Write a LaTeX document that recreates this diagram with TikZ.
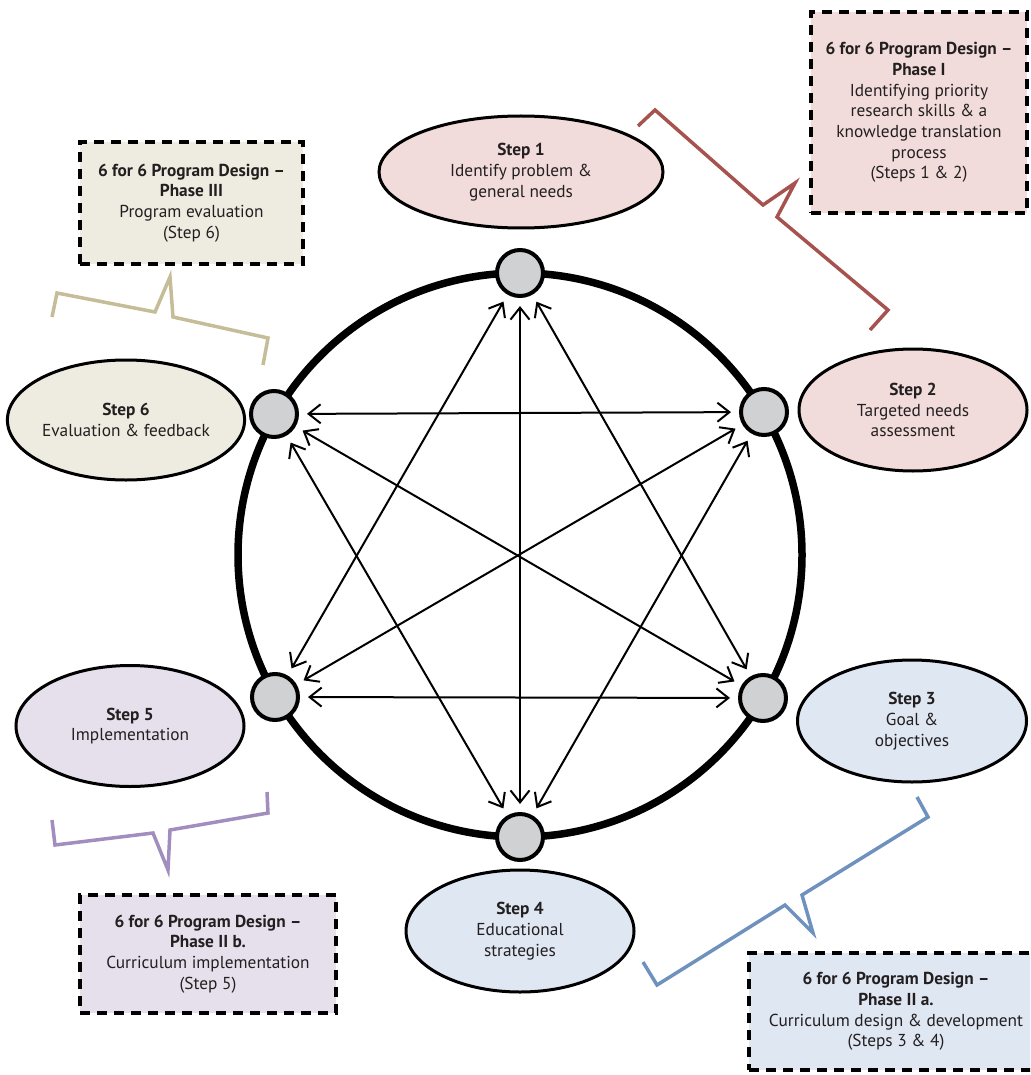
\documentclass[tikz,border=0pt]{standalone}
\usepackage{fontspec}
\setmainfont{PT Sans}
\usetikzlibrary{shapes.geometric,arrows.meta}
\definecolor{pinkf}{HTML}{F2DCDB}
\definecolor{bluef}{HTML}{DFE7F2}
\definecolor{lavf}{HTML}{E6E0EC}
\definecolor{tanf}{HTML}{EEECE1}
\definecolor{grayf}{HTML}{D0D1D3}
\definecolor{redb}{RGB}{166,83,79}
\definecolor{tanb}{RGB}{196,189,151}
\definecolor{purb}{RGB}{161,142,190}
\definecolor{blueb}{RGB}{111,145,190}
\definecolor{txt}{HTML}{231F20}
\begin{document}
\begin{tikzpicture}[x=1pt,y=-1pt,
  every node/.style={text=txt, font=\fontsize{17.3pt}{20.7pt}\selectfont},
  stepell/.style={ellipse, draw=black, line width=3pt, inner sep=0pt, align=center},
  hub/.style={circle, draw=black, line width=4pt, fill=grayf, minimum size=46pt, inner sep=0pt},
  phasebox/.style={draw=black, line width=4pt, dash pattern=on 10pt off 7pt, inner sep=0pt, align=center},
  link/.style={line width=2pt, {Straight Barb[length=12pt,width=19pt]}-{Straight Barb[length=12pt,width=19pt]}, shorten >=8pt, shorten <=8pt},
  brace/.style={line width=3.5pt, line join=miter}]
\useasboundingbox (0,0) rectangle (1030,1075);

% phase boxes
\node[phasebox, fill=pinkf, minimum width=216pt, minimum height=201pt] (p1) at (919,112.5)
  {\textbf{6 for 6 Program Design –}\\\textbf{Phase I}\\Identifying priority\\research skills \& a\\knowledge translation\\process\\(Steps 1 \& 2)};
\node[phasebox, fill=tanf, minimum width=223pt, minimum height=122pt] (p3) at (191.5,203)
  {\textbf{6 for 6 Program Design –}\\\textbf{Phase III}\\Program evaluation\\(Step 6)};
\node[phasebox, fill=lavf, minimum width=256pt, minimum height=118pt] (p2b) at (208,954)
  {\textbf{6 for 6 Program Design –}\\\textbf{Phase II b.}\\Curriculum implementation\\(Step 5)};
\begin{scope}
\clip (0,0) rectangle (1030,1075);
\node[phasebox, fill=bluef, minimum width=294pt, minimum height=117pt] (p2a) at (896,1011.5)
  {\textbf{6 for 6 Program Design –}\\\textbf{Phase II a.}\\Curriculum design \& development\\(Steps 3 \& 4)};
\end{scope}

% braces
\draw[brace, redb] (638,126) -- (655,110) -- (763,205) -- (795,183) -- (777,217) -- (888,310) -- (870,330);
\draw[brace, tanb] (52,317) -- (57,293) -- (155,312) -- (170,277) -- (173,317) -- (268,338) -- (263,365);
\draw[brace, purb] (52,820) -- (55,845) -- (153,833) -- (168,870) -- (170,830) -- (268,813) -- (267,792);
\draw[brace, blueb] (917,797) -- (928,817) -- (802,895) -- (813,933) -- (785,905) -- (657,985) -- (643,962);

% step ellipses
\node[stepell, fill=pinkf, minimum width=284pt, minimum height=112pt] (e1) at (521,172)
  {\textbf{Step 1}\\Identify problem \&\\general needs};
\node[stepell, fill=pinkf, minimum width=228pt, minimum height=122pt] (e2) at (913,410)
  {\textbf{Step 2}\\Targeted needs\\assessment};
\node[stepell, fill=bluef, minimum width=229pt, minimum height=122pt] (e3) at (912,721)
  {\textbf{Step 3}\\Goal \&\\objectives};
\node[stepell, fill=bluef, minimum width=228pt, minimum height=122pt] (e4) at (520,931)
  {\textbf{Step 4}\\Educational\\strategies};
\node[stepell, fill=lavf, minimum width=228pt, minimum height=121pt] (e5) at (130,726)
  {\textbf{Step 5}\\Implementation};
\node[stepell, fill=tanf, minimum width=236pt, minimum height=120pt] (e6) at (126,420)
  {\textbf{Step 6}\\Evaluation \& feedback};

% main circle
\node[circle, draw=black, line width=7.5pt, minimum size=564pt, inner sep=0pt] (ring) at (520,555) {};

% hubs
\node[hub] (s1) at (520,273) {};
\node[hub] (s2) at (764,412) {};
\node[hub] (s3) at (763,698) {};
\node[hub] (s4) at (520,837) {};
\node[hub] (s5) at (275,697) {};
\node[hub] (s6) at (274,414) {};

% links
\draw[link] (s1) -- (s4);
\draw[link] (s2) -- (s5);
\draw[link] (s3) -- (s6);
\draw[link] (s1) -- (s3);
\draw[link] (s1) -- (s5);
\draw[link] (s2) -- (s6);
\draw[link] (s2) -- (s4);
\draw[link] (s4) -- (s6);
\draw[link] (s3) -- (s5);
\end{tikzpicture}
\end{document}
